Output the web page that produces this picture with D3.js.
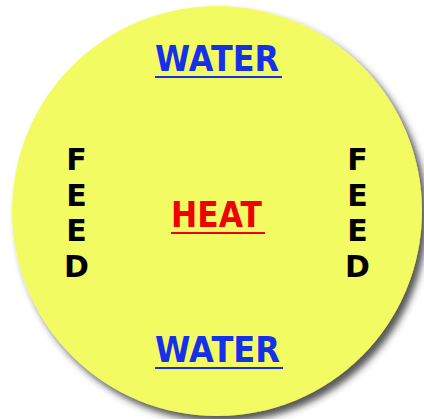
<!DOCTYPE html>
<html>
  <head>
    <meta charset="utf-8">
    <title>Water Heat Feed</title>
    <script src="https://cdn.jsdelivr.net/npm/d3@7"></script>
    <style>
      body { margin: 0; background: #fff; }
      text { font-family: "DejaVu Sans", sans-serif; font-weight: bold; }
    </style>
  </head>
  <body>
<script>
var w = 424;
var h = 419;

// labels on the disc
var waterLabel = "WATER";
var heatLabel = "HEAT";
var feedLabel = "FEED";
var feedLetters = feedLabel.split("");
var rows = ["top", "middle", "bottom"];

var cx = 217, cy = 211, r = 205;

var svg = d3.select("body").append("svg")
    .attr("width", w)
    .attr("height", h);

var defs = svg.append("defs");
var f = defs.append("filter")
    .attr("id", "shadow")
    .attr("x", "-20%").attr("y", "-20%")
    .attr("width", "140%").attr("height", "140%");
f.append("feDropShadow")
    .attr("dx", 5).attr("dy", 6)
    .attr("stdDeviation", 3.5)
    .attr("flood-color", "#2a2a2a")
    .attr("flood-opacity", 0.8);

svg.append("circle")
    .attr("cx", cx).attr("cy", cy).attr("r", r)
    .attr("fill", "#f3fb63")
    .attr("filter", "url(#shadow)");

// baseline of each row
var yRow = d3.scaleOrdinal().domain(rows).range([71, 227, 362]);

var centreLabels = [
  {row: "top", text: waterLabel, color: "#1530e6", x0: 155, x1: 279},
  {row: "middle", text: heatLabel, color: "#f00000", x0: 171, x1: 262},
  {row: "bottom", text: waterLabel, color: "#1530e6", x0: 155, x1: 280}
];

var g = svg.selectAll("g.lab")
    .data(centreLabels)
    .enter().append("g")
    .attr("class", "lab");

g.append("text")
    .attr("x", function(d) { return d.x0; })
    .attr("y", function(d) { return yRow(d.row); })
    .attr("textLength", function(d) { return d.x1 - d.x0; })
    .attr("lengthAdjust", "spacingAndGlyphs")
    .attr("font-size", 35)
    .attr("fill", function(d) { return d.color; })
    .text(function(d) { return d.text; });

g.append("rect")
    .attr("x", function(d) { return d.x0; })
    .attr("y", function(d) { return yRow(d.row) + 5; })
    .attr("width", function(d) { return d.x1 - d.x0 + 3; })
    .attr("height", 2)
    .attr("fill", function(d) { return d.color; });

// vertical FEED letters
var yFeed = d3.scalePoint().domain(d3.range(feedLetters.length)).range([170, 277]);
var feedX = [76.5, 357.5];

feedX.forEach(function(x) {
  svg.selectAll(null)
      .data(feedLetters)
      .enter().append("text")
      .attr("x", x)
      .attr("y", function(d, i) { return yFeed(i); })
      .attr("text-anchor", "middle")
      .attr("font-size", 30)
      .attr("fill", "#000")
      .text(function(d) { return d; });
});
</script>
  </body>
</html>
